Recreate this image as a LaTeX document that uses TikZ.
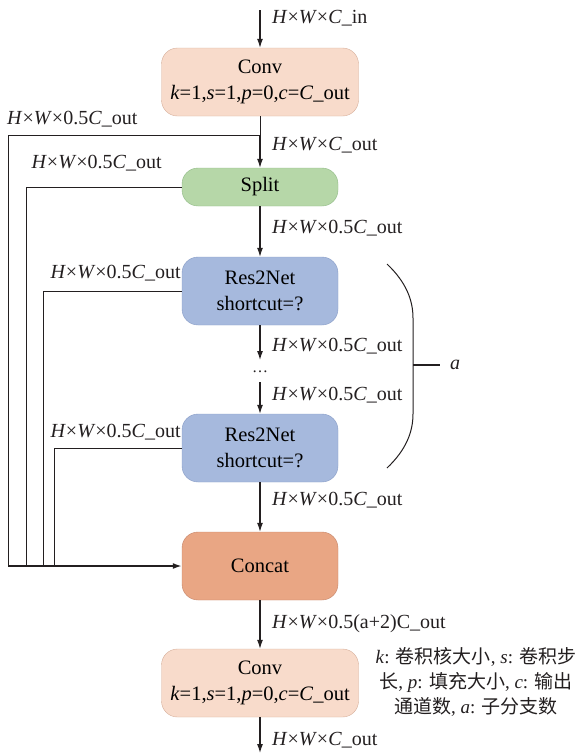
\documentclass[tikz,border=0pt]{standalone}
\usepackage{fontspec}
\setmainfont{Liberation Serif}
\newfontfamily\cjk{Noto Sans CJK SC}
\usepackage{xcolor}
\usetikzlibrary{arrows.meta,positioning,calc}

\definecolor{convfill}{HTML}{F8DBCB}
\definecolor{convline}{HTML}{D6AE9A}
\definecolor{splitfill}{HTML}{B6D7A8}
\definecolor{splitline}{HTML}{8FB985}
\definecolor{resfill}{HTML}{A6B9DD}
\definecolor{resline}{HTML}{879CC6}
\definecolor{catfill}{HTML}{E9A684}
\definecolor{catline}{HTML}{C4846A}
\definecolor{ink}{HTML}{231F20}

\newcommand{\hwx}{\textit{H}×\textit{W}×}

\tikzset{
  box/.style={draw, rounded corners=16pt, minimum width=156pt, minimum height=68pt,
    align=center, inner sep=2pt, font=\fontsize{20.5}{26}\selectfont},
  convbox/.style={box, fill=convfill, draw=convline, minimum width=197pt},
  splitbox/.style={box, fill=splitfill, draw=splitline, minimum height=38pt},
  resbox/.style={box, fill=resfill, draw=resline},
  catbox/.style={box, fill=catfill, draw=catline},
  lbl/.style={inner sep=0pt, font=\fontsize{20}{24}\selectfont, text=ink},
  flow/.style={draw=ink, line width=1.1pt, -{Latex[length=9pt,width=6pt]}},
  wire/.style={draw=ink, line width=1pt}
}

\begin{document}
\begin{tikzpicture}[x=1pt, y=-1pt]
\useasboundingbox (0,0) rectangle (587,753);

% blocks
\node[convbox] (conv1) at (260,82) {Conv\\\textit{k}=1,\textit{s}=1,\textit{p}=0,\textit{c}=\textit{C}\_out};
\node[splitbox] (split) at (260,187) {Split};
\node[resbox] (res1) at (260,291) {Res2Net\\shortcut=?};
\node[inner sep=0pt, outer sep=10pt, text height=2pt, text depth=0pt,
  font=\fontsize{16}{18}\selectfont, text=ink] (dots) at (260,371) {\ldots};
\node[resbox] (res2) at (260,448) {Res2Net\\shortcut=?};
\node[catbox] (cat) at (260,566) {Concat};
\node[convbox] (conv2) at (260,683) {Conv\\\textit{k}=1,\textit{s}=1,\textit{p}=0,\textit{c}=\textit{C}\_out};

\coordinate (in) at (260,10);
\coordinate (out) at (260,753);
\coordinate (j1) at (260,135);

% main path
\draw[flow] (in) -- (conv1);
\draw[wire] (conv1) -- (j1);
\draw[flow] (j1) -- (split);
\draw[flow] (split) -- (res1);
\draw[flow] (res1) -- (dots.north);
\draw[flow] (dots.south) -- (res2);
\draw[flow] (res2) -- (cat);
\draw[flow] (cat) -- (conv2);
\draw[flow] (conv2) -- (out);

% skip lines into concat
\coordinate (c1) at (8,566);
\coordinate (c2) at (26,566);
\coordinate (c3) at (43,566);
\coordinate (c4) at (54,566);
\draw[wire] (j1) -| (c1);
\draw[flow, line width=1.6pt] (c1) -- (cat.west);
\draw[wire] (split.west) -| (c2);
\draw[wire] (res1.west) -| (c3);
\draw[wire] (res2.west) -| (c4);

% sizes
\node[lbl, anchor=west] (s0) at (272,18) {\hwx\textit{C}\_in};
\node[lbl, anchor=west] (s1) at (272,145) {\hwx\textit{C}\_out};
\node[lbl, anchor=west] (s2) at (272,228) {\hwx0.5\textit{C}\_out};
\node[lbl, anchor=west] (s3) at (272,346) {\hwx0.5\textit{C}\_out};
\node[lbl, anchor=west] (s4) at (272,395) {\hwx0.5\textit{C}\_out};
\node[lbl, anchor=west] (s5) at (272,500) {\hwx0.5\textit{C}\_out};
\node[lbl, anchor=west] (s6) at (272,624) {\hwx0.5(a+2)C\_out};
\node[lbl, anchor=west] (s7) at (272,740) {\hwx\textit{C}\_out};
\node[lbl, anchor=west] (b0) at (7,119) {\hwx0.5\textit{C}\_out};
\node[lbl, anchor=east] (b1) at (162,163) {\hwx0.5\textit{C}\_out};
\node[lbl, anchor=east] (b2) at (181,273) {\hwx0.5\textit{C}\_out};
\node[lbl, anchor=east] (b3) at (181,432) {\hwx0.5\textit{C}\_out};

% branch count
\draw[wire] (387,264) .. controls (406,282) and (413,300) .. (413,318) -- (413,414)
  .. controls (413,432) and (406,450) .. (387,468);
\coordinate (br) at (413,365);
\node[lbl, anchor=west] (a) at (450,365) {\textit{a}};
\draw[draw=ink, line width=2pt] (br) -- ($(a.west)+(-10,0)$);

% note
\node[lbl, align=center, font=\fontsize{19}{25}\selectfont] (note) at (476,682)
  {\textit{k}: {\cjk 卷积核大小}, \textit{s}: {\cjk 卷积步}\\
   {\cjk 长}, \textit{p}: {\cjk 填充大小}, \textit{c}: {\cjk 输出}\\
   {\cjk 通道数}, \textit{a}: {\cjk 子分支数}};
\end{tikzpicture}
\end{document}
